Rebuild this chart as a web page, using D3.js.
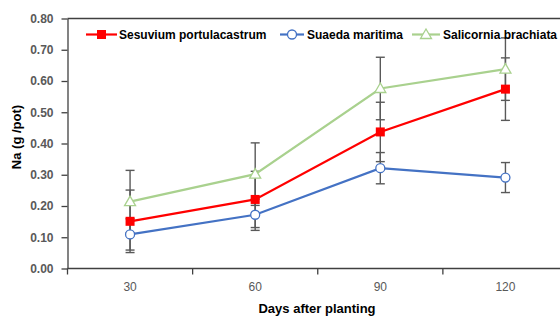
<!DOCTYPE html>
<html>
<head>
<meta charset="utf-8">
<script src="https://cdn.jsdelivr.net/npm/d3@7"></script>
<style>
  html, body { margin: 0; padding: 0; background: #fff; }
  svg { display: block; font-family: "Liberation Sans", Arial, sans-serif; }
</style>
</head>
<body>
<svg id="chart" width="560" height="317"></svg>
<script>
// chart data
const days = ["30", "60", "90", "120"];
const yTicks = [0, 0.1, 0.2, 0.3, 0.4, 0.5, 0.6, 0.7, 0.8];

const sesuviumValues = [0.151, 0.221, 0.437, 0.574];
const sesuviumErrors = [0.10, 0.09, 0.095, 0.10];
const suaedaValues = [0.109, 0.172, 0.321, 0.291];
const suaedaErrors = [0.05, 0.05, 0.05, 0.048];
const salicorniaValues = [0.214, 0.302, 0.576, 0.638];
const salicorniaErrors = [0.10, 0.10, 0.10, 0.10];

const seriesNames = ["Sesuvium portulacastrum", "Suaeda maritima", "Salicornia brachiata"];

const series = [
    { name: seriesNames[0], values: sesuviumValues, errors: sesuviumErrors, color: "#ff0000", marker: "square" },
    { name: seriesNames[1], values: suaedaValues, errors: suaedaErrors, color: "#4472c4", marker: "circle" },
    { name: seriesNames[2], values: salicorniaValues, errors: salicorniaErrors, color: "#a9d18e", marker: "triangle" }
];

const svg = d3.select("#chart");
const margins = { left: 67.5, right: 568, top: 18.5, bottom: 268.5 };
const axisColor = "#404040";
const labelColor = "#595959";

const xScale = d3.scaleBand().domain(days).range([margins.left, margins.right]).padding(0);
const yScale = d3.scaleLinear().domain([0, 0.8]).range([margins.bottom, margins.top]);
const xCenter = (d) => xScale(d) + xScale.bandwidth() / 2;

// top frame line
svg.append("line")
    .attr("x1", margins.left).attr("x2", 560)
    .attr("y1", margins.top).attr("y2", margins.top)
    .attr("stroke", axisColor).attr("stroke-width", 1.3);

// y axis
const yAxis = svg.append("g")
    .attr("transform", `translate(${margins.left},0)`)
    .call(d3.axisLeft(yScale).tickValues(yTicks).tickSize(6).tickSizeOuter(0).tickPadding(8).tickFormat(d3.format(".2f")));
yAxis.select(".domain").attr("stroke", axisColor).attr("stroke-width", 1.3);
yAxis.selectAll(".tick line").attr("stroke", axisColor).attr("stroke-width", 1.3);
yAxis.selectAll("text")
    .attr("font-size", 12).attr("font-weight", "bold")
    .attr("fill", labelColor).attr("font-family", "Liberation Sans, Arial, sans-serif");

// x axis: labels at category centres, tick marks between categories
const xAxis = svg.append("g").attr("transform", `translate(0,${margins.bottom})`);
xAxis.append("line")
    .attr("x1", margins.left).attr("x2", 560)
    .attr("stroke", axisColor).attr("stroke-width", 1.3);
xAxis.selectAll(".xtick")
    .data(days)
    .join("line")
    .attr("class", "xtick")
    .attr("x1", (d) => xScale(d)).attr("x2", (d) => xScale(d))
    .attr("y1", 0).attr("y2", 6)
    .attr("stroke", axisColor).attr("stroke-width", 1.3);
xAxis.selectAll(".xlabel")
    .data(days)
    .join("text")
    .attr("class", "xlabel")
    .attr("x", xCenter)
    .attr("y", 22)
    .attr("text-anchor", "middle")
    .attr("font-size", 12)
    .attr("fill", labelColor)
    .text((d) => d);

// axis titles
svg.append("text")
    .attr("transform", `translate(21,137) rotate(-90)`)
    .attr("text-anchor", "middle")
    .attr("font-size", 13).attr("font-weight", "bold")
    .attr("fill", "#000")
    .text("Na (g /pot)");
svg.append("text")
    .attr("x", 317).attr("y", 313)
    .attr("text-anchor", "middle")
    .attr("font-size", 13).attr("font-weight", "bold")
    .attr("fill", "#000")
    .text("Days after planting");

// error bars
const errGroup = svg.append("g").attr("class", "error-bars");
series.forEach((s) => {
    const rows = days.map((d, i) => ({ x: xCenter(d), v: s.values[i], e: s.errors[i] }));
    const g = errGroup.append("g");
    g.selectAll(".stem").data(rows).join("line")
        .attr("x1", (d) => d.x).attr("x2", (d) => d.x)
        .attr("y1", (d) => yScale(d.v - d.e)).attr("y2", (d) => yScale(d.v + d.e))
        .attr("stroke", labelColor).attr("stroke-width", 1.4);
    ["lo", "hi"].forEach((k) => {
        g.selectAll(".cap-" + k).data(rows).join("line")
            .attr("x1", (d) => d.x - 4.5).attr("x2", (d) => d.x + 4.5)
            .attr("y1", (d) => yScale(k === "lo" ? d.v - d.e : d.v + d.e))
            .attr("y2", (d) => yScale(k === "lo" ? d.v - d.e : d.v + d.e))
            .attr("stroke", labelColor).attr("stroke-width", 1.4);
    });
});

function drawMarker(g, type, color, x, y) {
    if (type === "square") {
        g.append("rect").attr("x", x - 4.5).attr("y", y - 4.5).attr("width", 9).attr("height", 9)
            .attr("fill", color);
    } else if (type === "circle") {
        g.append("circle").attr("cx", x).attr("cy", y).attr("r", 4.5)
            .attr("fill", "#fff").attr("stroke", color).attr("stroke-width", 1.3);
    } else {
        g.append("path")
            .attr("d", `M${x},${y - 5.5}L${x + 5.5},${y + 4}L${x - 5.5},${y + 4}Z`)
            .attr("fill", "#fff").attr("stroke", color).attr("stroke-width", 1.3);
    }
}

// lines and markers
const line = d3.line().x((d) => xCenter(d[0])).y((d) => yScale(d[1]));
series.forEach((s) => {
    const pts = days.map((d, i) => [d, s.values[i]]);
    svg.append("path")
        .datum(pts)
        .attr("d", line)
        .attr("fill", "none")
        .attr("stroke", s.color)
        .attr("stroke-width", 2.2);
    const mg = svg.append("g");
    pts.forEach((p) => drawMarker(mg, s.marker, s.color, xCenter(p[0]), yScale(p[1])));
});

// legend
const legendItems = [
    { x0: 86, x1: 117, tx: 119 },
    { x0: 280, x1: 304, tx: 307 },
    { x0: 412, x1: 440, tx: 443 }
];
const legend = svg.append("g").attr("class", "legend");
series.forEach((s, i) => {
    const it = legendItems[i];
    const g = legend.append("g");
    g.append("line")
        .attr("x1", it.x0).attr("x2", it.x1).attr("y1", 34.5).attr("y2", 34.5)
        .attr("stroke", s.color).attr("stroke-width", 2.2);
    drawMarker(g, s.marker, s.color, (it.x0 + it.x1) / 2, 34.5);
    g.append("text")
        .attr("x", it.tx).attr("y", 38.5)
        .attr("font-size", 12).attr("font-weight", "bold")
        .attr("fill", "#000")
        .text(s.name);
});
</script>
</body>
</html>
